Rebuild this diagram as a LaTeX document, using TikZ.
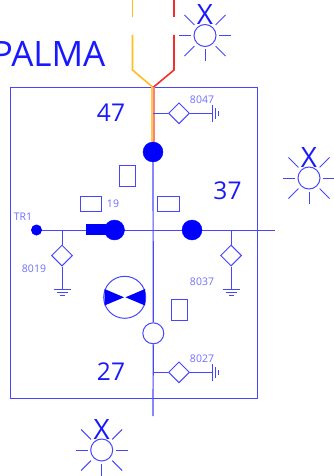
\documentclass[tikz,border=0pt]{standalone}
\usepackage{fontspec}
\setmainfont{Open Sans}
\usetikzlibrary{shapes.geometric}
\definecolor{lineblue}{RGB}{70,70,255}
\definecolor{textblue}{RGB}{110,110,255}
\definecolor{lineyellow}{RGB}{255,190,30}
\definecolor{linered}{RGB}{245,45,45}
\tikzset{
  wire/.style={draw=lineblue, line width=1pt},
  feed/.style={line width=1.6pt},
  bkr/.style={circle, fill=blue, draw=blue, inner sep=0pt, minimum size=20pt},
  bkropen/.style={circle, wire, fill=white, inner sep=0pt, minimum size=21pt},
  sw/.style={diamond, wire, inner sep=0pt, minimum size=21pt},
  tag/.style={rectangle, wire, inner sep=0pt},
  code/.style={text=textblue, font=\fontsize{10.5}{12}\selectfont, inner sep=0pt},
  bay/.style={text=blue!90!white, font=\fontsize{24.5}{28}\selectfont, inner sep=0pt},
  lamp/.style={circle, wire, inner sep=0pt, minimum size=22pt},
  cross/.style={text=blue!90!white, font=\fontsize{28}{30}\selectfont, inner sep=0pt},
  grnd/.pic={
    \draw[wire] (-8.5,0) -- (8.5,0);
    \draw[wire] (-5.5,3) -- (5.5,3);
    \draw[wire] (-2.5,5.5) -- (2.5,5.5);
  }
}

\begin{document}
\begin{tikzpicture}[x=1pt,y=-1pt]
\useasboundingbox (0,0) rectangle (334,476);

% Draw frame
\draw[wire] (10.5,87.5) rectangle (257,398);

% Draw incoming lines
\draw[feed, lineyellow] (132.5,0) -- (132.5,17);
\draw[feed, linered] (174,0) -- (174,17);
\draw[feed, lineyellow] (132.5,35) -- (132.5,70) -- (152.5,87);
\draw[feed, linered] (174,35) -- (174,70) -- (153,87.5);
\draw[lineyellow!80!white, line width=1.5pt] (152,87) -- (152,143);
\draw[linered!60!white, line width=1.5pt] (153.8,87) -- (153.8,143);

% Add breakers and bus
\coordinate (busend) at (153,416);
\coordinate (linestart) at (36.5,230);
\coordinate (lineend) at (275,230);
\coordinate (cross47) at (153,113.3);
\coordinate (cross27) at (153,372.3);
\node[bkr] (b47) at (153,152) {};
\node[bkropen] (b27) at (153.3,333.3) {};
\draw[wire, line width=1.2pt] (b47) -- (b27) -- (busend);
\draw[wire] (linestart) -- (lineend);
\node[circle, fill=blue, inner sep=0pt, minimum size=11pt] (tr) at (linestart) {};
\node[bkr] (b19) at (114.5,230) {};
\node[bkr] (b37) at (192,230) {};
\node[rectangle, fill=blue, inner sep=0pt, minimum width=20pt, minimum height=11pt] (bbox) at (95.5,229.5) {};

% Draw disconnectors
\node[sw] (s8047) at (179,113.3) {};
\node[sw] (s8027) at (179,372.3) {};
\node[sw] (s8019) at (62,255.5) {};
\node[sw] (s8037) at (231,255.5) {};
\coordinate (g8047) at (212.5,113.3);
\coordinate (g8027) at (212.5,372.3);
\coordinate (g8019) at (62,289.5);
\coordinate (g8037) at (231,289.5);
\draw[wire] (cross47) -- (s8047) -- (g8047);
\draw[wire] (cross27) -- (s8027) -- (g8027);
\draw[wire] (62,230) -- (s8019) -- (g8019);
\draw[wire] (231,230) -- (s8037) -- (g8037);
\foreach \g in {g8019, g8037} {
    \pic at (\g) {grnd};
}
\foreach \g in {g8047, g8027} {
    \pic[rotate=90] at (\g) {grnd};
}

% Draw tag boxes
\node[tag, minimum width=16pt, minimum height=21pt] (tag47) at (127,175.5) {};
\node[tag, minimum width=21.5pt, minimum height=15.5pt] (tag19) at (91,204) {};
\node[tag, minimum width=21.5pt, minimum height=15.5pt] (tag37) at (168.5,204) {};
\node[tag, minimum width=16pt, minimum height=21pt] (tag27) at (179,310) {};

% Draw transformer
\node[circle, wire, inner sep=0pt, minimum size=42pt] (trafo) at (124.7,297.3) {};
\fill[blue] (104.5,289) -- (124,297.3) -- (104.5,305.5) -- cycle;
\fill[blue] (145,289) -- (125.5,297.3) -- (145,305.5) -- cycle;

% Draw lamps
\foreach \n/\x/\y in {one/205/35.5, two/309/178, three/101.7/450} {
    \node[lamp] (lamp\n) at (\x,\y) {};
    \node[cross] (x\n) at (\x,\y-20.5) {X};
    \foreach \a in {0,180,90} {
        \draw[wire, shift={(\x,\y)}] (\a:14) -- (\a:26);
    }
    \foreach \a in {45,135,225,315} {
        \draw[wire, shift={(\x,\y)}] (\a:15) -- (\a:29);
    }
}

% Add nodes
\node[text=blue!90!white, font=\fontsize{35}{40}\selectfont, anchor=east, inner sep=0pt] (name) at (105.5,54) {PALMA};
\node[bay] (n47) at (111,113) {47};
\node[bay] (n37) at (227.5,191) {37};
\node[bay] (n27) at (111,372) {27};
\node[code] (c19) at (113,204) {19};
\node[code] (ctr) at (23,217) {TR1};
\node[code] (c8047) at (202,100) {8047};
\node[code] (c8019) at (34,269) {8019};
\node[code] (c8037) at (202,282) {8037};
\node[code] (c8027) at (202,359) {8027};
\end{tikzpicture}
\end{document}
